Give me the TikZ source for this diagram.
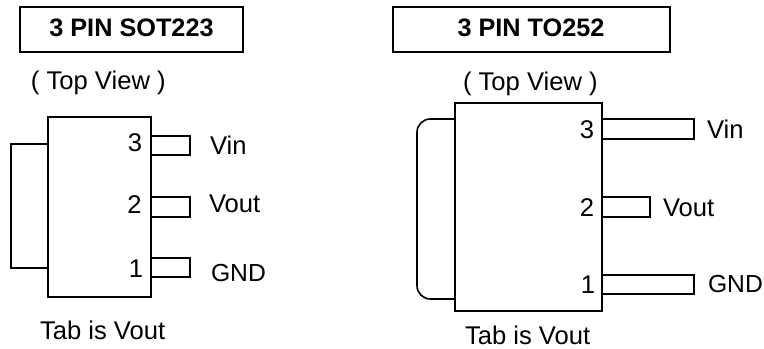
\documentclass[tikz,border=0pt]{standalone}
\usepackage{fontspec}
\setmainfont{Liberation Sans}
\newcommand{\pxbox}[6]{\node[#2,minimum width={(#5-#3)*0.75pt},minimum height={(#6-#4)*0.75pt}] (#1) at ({(#3+#5)/2},{(#4+#6)/2}) {};}
\tikzset{
  outline/.style={draw=black,line width=1.2pt,inner sep=0pt,outer sep=0pt,rectangle},
  wire/.style={draw=black,line width=1.2pt,line join=miter},
  lbl/.style={anchor=base west,inner sep=0pt,outer sep=0pt,font=\fontsize{19.2pt}{21pt}\selectfont,text=black},
  gndlbl/.style={lbl,font=\fontsize{18.5pt}{21pt}\selectfont},
  ctr/.style={lbl,anchor=base},
  ttl/.style={ctr,font=\fontsize{18.95pt}{21pt}\selectfont\bfseries}
}
\begin{document}
\begin{tikzpicture}[x=0.75pt,y=-0.75pt]
\useasboundingbox (0,0) rectangle (764,349);
% left package
\pxbox{titleL}{outline}{20}{7}{243}{52}
\node[ttl] (ttlL) at (131.5,36.5) {3 PIN SOT223};
\node[lbl] (viewL) at (31,90) {( Top View )};
\pxbox{bodyL}{outline}{48}{117}{151}{297}
\pxbox{pinL3}{outline}{151}{136}{190}{155}
\pxbox{pinL2}{outline}{151}{197}{190}{217}
\pxbox{pinL1}{outline}{151}{258}{190}{277}
\coordinate (tabLa) at (11,144);
\coordinate (tabLb) at (11,268);
\draw[wire] (bodyL.west |- tabLa) -- (tabLa) -- (tabLb) -- (bodyL.west |- tabLb);
\node[ctr] (nL3) at (135,152) {3};
\node[ctr] (nL2) at (134.5,214) {2};
\node[ctr] (nL1) at (136,277) {1};
\node[lbl] (vinL) at (210,155) {Vin};
\node[lbl] (voutL) at (209,213) {Vout};
\node[gndlbl] (gndL) at (211,281) {GND};
\node[lbl] (tabtxtL) at (40,339) {Tab is Vout};
% right package
\pxbox{titleR}{outline}{393}{7}{670}{52}
\node[ttl] (ttlR) at (531,36.5) {3 PIN TO252};
\node[lbl] (viewR) at (463,90.5) {( Top View )};
\pxbox{bodyR}{outline}{455}{103}{602}{311}
\pxbox{pinR3}{outline}{602}{119}{694}{139}
\pxbox{pinR2}{outline}{602}{197}{650}{217}
\pxbox{pinR1}{outline}{602}{275}{694}{294}
\coordinate (tabRa) at (417,119);
\coordinate (tabRb) at (417,299);
\draw[wire,rounded corners=10pt] (bodyR.west |- tabRa) -- (tabRa) -- (tabRb) -- (bodyR.west |- tabRb);
\node[ctr] (nR3) at (587,139) {3};
\node[ctr] (nR2) at (587,216) {2};
\node[ctr] (nR1) at (588,293) {1};
\node[lbl] (vinR) at (707,139) {Vin};
\node[lbl] (voutR) at (663,216) {Vout};
\node[gndlbl] (gndR) at (708,292) {GND};
\node[lbl] (tabtxtR) at (465,344) {Tab is Vout};
\end{tikzpicture}
\end{document}
